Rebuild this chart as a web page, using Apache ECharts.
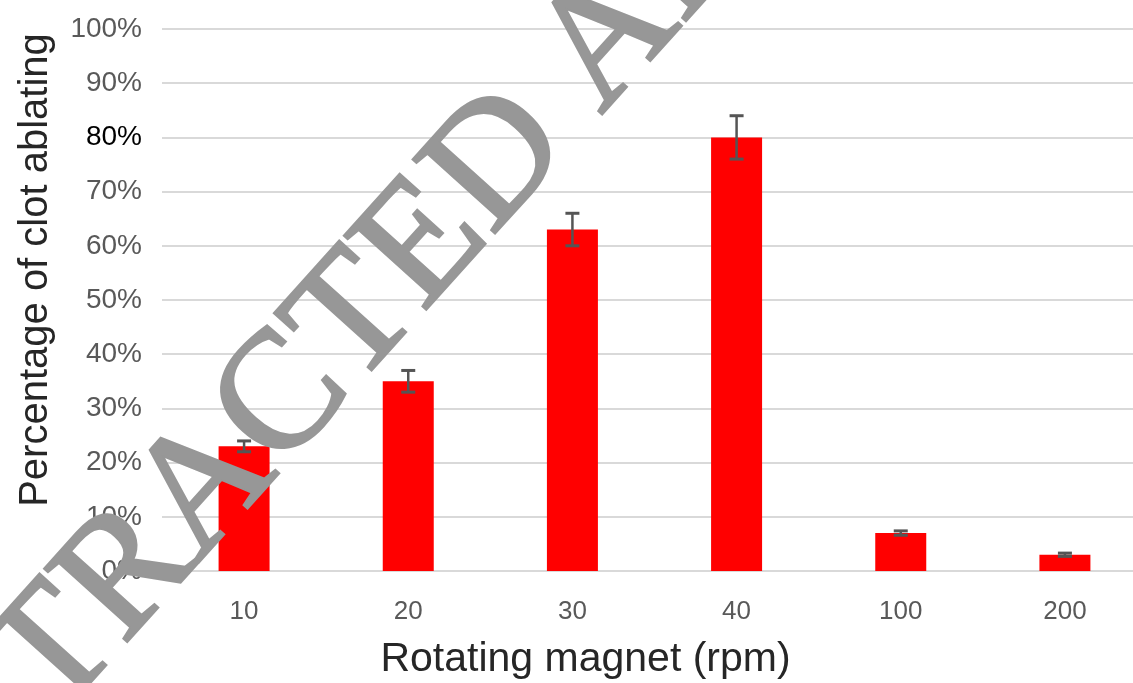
<!DOCTYPE html>
<html>
<head>
<meta charset="utf-8">
<script src="https://cdn.jsdelivr.net/npm/echarts@6/dist/echarts.min.js"></script>
<style>
  html, body { margin: 0; padding: 0; background: #ffffff; }
  #chart { width: 1133px; height: 683px; }
</style>
</head>
<body>
<div id="chart"></div>
<script>
// Rotating magnet speed (rpm) and the share of clot ablated at each speed
const speeds = ['10', '20', '30', '40', '100', '200'];
const ablation = [23, 35, 63, 80, 7, 3];
const ablationErr = [1, 2, 3, 4, 0.4, 0.3];
const yMin = 0;
const yMax = 100;
const yStep = 10;
const watermarkText = 'RETRACTED ARTICLE';

const chart = echarts.init(document.getElementById('chart'), null, { renderer: 'canvas' });

const errorData = speeds.map((s, i) => [i, ablation[i] - ablationErr[i], ablation[i] + ablationErr[i]]);

const labelFont = '"Liberation Sans", Arial, sans-serif';

chart.setOption({
  animation: false,
  backgroundColor: '#ffffff',
  grid: {
    left: 162, top: 29, width: 985, height: 542,
    containLabel: false,
    outerBoundsMode: 'none'
  },
  xAxis: {
    type: 'category',
    data: speeds,
    axisLine: { show: true, lineStyle: { color: '#d9d9d9', width: 2 } },
    axisTick: { show: false },
    axisLabel: { color: '#595959', fontSize: 26, fontFamily: labelFont, margin: 28 },
    name: 'Rotating magnet (rpm)',
    nameLocation: 'middle',
    nameGap: 68,
    nameTextStyle: { color: '#262626', fontSize: 41, fontFamily: labelFont, padding: [0, 138, 0, 0] }
  },
  yAxis: {
    type: 'value',
    min: yMin,
    max: yMax,
    interval: yStep,
    axisLine: { show: false },
    axisTick: { show: false },
    splitLine: { lineStyle: { color: '#d9d9d9', width: 2 } },
    axisLabel: {
      formatter: '{value}%',
      fontSize: 28,
      fontFamily: labelFont,
      margin: 20,
      color: function (value) { return Number(value) === 80 ? '#000000' : '#595959'; }
    },
    name: 'Percentage of clot ablating',
    nameLocation: 'middle',
    nameRotate: 90,
    nameGap: 106,
    nameTextStyle: { color: '#262626', fontSize: 40, fontFamily: labelFont, padding: [0, 0, 0, 60] }
  },
  series: [
    {
      type: 'bar',
      data: ablation,
      barWidth: 51,
      itemStyle: { color: '#ff0000' },
      z: 2
    },
    {
      type: 'custom',
      data: errorData,
      encode: { x: 0, y: [1, 2] },
      z: 3,
      renderItem: function (params, api) {
        const idx = api.value(0);
        const lo = api.coord([idx, api.value(1)]);
        const hi = api.coord([idx, api.value(2)]);
        const half = 7;
        return {
          type: 'group',
          children: [
            { type: 'line', shape: { x1: lo[0], y1: lo[1], x2: hi[0], y2: hi[1] }, style: { stroke: '#555555', lineWidth: 2.5 } },
            { type: 'line', shape: { x1: hi[0] - half, y1: hi[1], x2: hi[0] + half, y2: hi[1] }, style: { stroke: '#555555', lineWidth: 3 } },
            { type: 'line', shape: { x1: lo[0] - half, y1: lo[1], x2: lo[0] + half, y2: lo[1] }, style: { stroke: '#555555', lineWidth: 3 } }
          ]
        };
      }
    }
  ],
  graphic: [
    {
      type: 'text',
      x: 457,
      y: 209,
      rotation: 48 * Math.PI / 180,
      z: 100,
      silent: true,
      style: {
        text: watermarkText,
        fontSize: 168,
        fontFamily: '"Liberation Serif", "Times New Roman", serif',
        fill: '#979797',
        stroke: '#979797',
        lineWidth: 3,
        align: 'center',
        verticalAlign: 'middle'
      }
    }
  ]
});
</script>
</body>
</html>
